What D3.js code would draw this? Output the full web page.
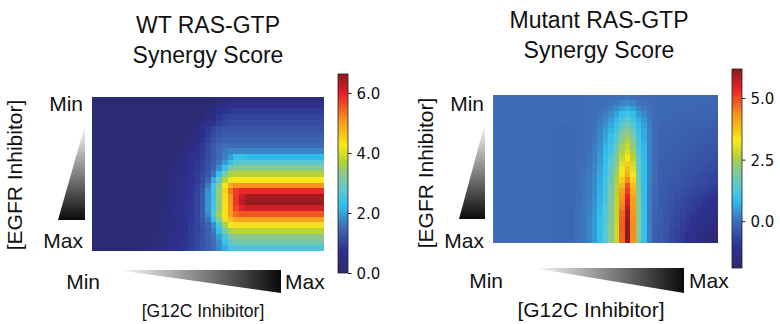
<!DOCTYPE html>
<html>
<head>
<meta charset="utf-8">
<script src="https://cdn.jsdelivr.net/npm/d3@7"></script>
<style>
  body { margin: 0; background: #fff; }
  svg { display: block; }
  .title, .lbl { font-family: "Liberation Sans", Arial, sans-serif; fill: #111; }
  .title { font-size: 23px; }
  .lbl { font-size: 21px; }
  .cbar text { font-family: "DejaVu Sans", sans-serif; font-size: 15px; fill: #111; }
</style>
</head>
<body>
<svg id="chart" width="780" height="324"></svg>
<script>
// WT synergy score, 27 rows (EGFR min -> max) x 41 cols (G12C min -> max)
const wtRows = [
  [.1,.1,.1,.1,.1,.1,.1,.1,.1,.1, .1,.1,.1,.1,.1,.1,.1,.1,.1,.1, .1,.12,.17,.25,.33,.38,.4,.4,.4,.4, .4,.4,.4,.4,.4,.4,.4,.4,.4,.4, .4],
  [.1,.1,.1,.1,.1,.1,.1,.1,.1,.1, .1,.1,.1,.1,.1,.1,.1,.1,.1,.1, .12,.2,.32,.45,.55,.6,.6,.6,.6,.6, .6,.6,.6,.6,.6,.6,.6,.6,.6,.6, .6],
  [.1,.1,.1,.1,.1,.1,.1,.1,.1,.1, .1,.1,.1,.1,.1,.1,.1,.1,.1,.12, .2,.35,.52,.68,.8,.85,.85,.85,.85,.85, .85,.85,.85,.85,.85,.85,.85,.85,.85,.85, .85],
  [.1,.1,.1,.1,.1,.1,.1,.1,.1,.1, .1,.1,.1,.1,.1,.1,.1,.1,.12,.22, .38,.58,.78,.92,1,1,1,1,1,1, 1,1,1,1,1,1,1,1,1,1, 1],
  [.1,.1,.1,.1,.1,.1,.1,.1,.1,.1, .1,.1,.1,.1,.1,.1,.1,.12,.2,.34, .52,.72,.9,1.03,1.1,1.1,1.1,1.1,1.1,1.1, 1.1,1.1,1.1,1.1,1.1,1.1,1.1,1.1,1.1,1.1, 1.1],
  [.1,.1,.1,.1,.1,.1,.1,.1,.1,.1, .1,.1,.1,.1,.1,.1,.12,.2,.34,.54, .77,.98,1.12,1.2,1.2,1.2,1.2,1.2,1.2,1.2, 1.2,1.2,1.2,1.2,1.2,1.2,1.2,1.2,1.2,1.2, 1.2],
  [.1,.1,.1,.1,.1,.1,.1,.1,.1,.1, .1,.1,.1,.1,.1,.1,.14,.24,.4,.6, .84,1.05,1.2,1.3,1.3,1.3,1.3,1.3,1.3,1.3, 1.3,1.3,1.3,1.3,1.3,1.3,1.3,1.3,1.3,1.3, 1.3],
  [.1,.1,.1,.1,.1,.1,.1,.1,.1,.1, .1,.1,.1,.1,.1,.13,.2,.32,.5,.72, .95,1.15,1.32,1.4,1.4,1.4,1.4,1.4,1.4,1.4, 1.4,1.4,1.4,1.4,1.4,1.4,1.4,1.4,1.4,1.4, 1.4],
  [.1,.1,.1,.1,.1,.1,.1,.1,.1,.1, .1,.1,.1,.1,.12,.18,.28,.42,.6,.82, 1.05,1.25,1.42,1.5,1.5,1.5,1.5,1.5,1.5,1.5, 1.5,1.5,1.5,1.5,1.5,1.5,1.5,1.5,1.5,1.5, 1.5],
  [.1,.1,.1,.1,.1,.1,.1,.1,.1,.1, .1,.1,.1,.1,.13,.2,.3,.44,.62,.85, 1.08,1.3,1.5,1.65,1.75,1.75,1.75,1.75,1.75,1.75, 1.75,1.75,1.75,1.75,1.75,1.75,1.75,1.75,1.75,1.75, 1.75],
  [.1,.1,.1,.1,.1,.1,.1,.1,.1,.1, .1,.1,.1,.12,.18,.27,.38,.52,.7,.9, 1.1,1.3,1.5,1.7,1.95,2.35,2.35,2.2,2.2,2.2, 2.2,2.2,2.2,2.2,2.2,2.2,2.2,2.2,2.2,2.2, 2.2],
  [.1,.1,.1,.1,.1,.1,.1,.1,.1,.1, .1,.1,.12,.17,.25,.35,.48,.62,.78,.96, 1.15,1.35,1.6,1.95,2.35,2.65,2.7,2.7,2.7,2.7, 2.7,2.7,2.7,2.7,2.7,2.7,2.7,2.7,2.7,2.7, 2.7],
  [.1,.1,.1,.1,.1,.1,.1,.1,.1,.1, .1,.1,.13,.19,.28,.38,.5,.65,.8,.98, 1.18,1.42,1.85,2.4,3,3.25,3.3,3.3,3.3,3.3, 3.3,3.3,3.3,3.3,3.3,3.3,3.3,3.3,3.3,3.3, 3.3],
  [.1,.1,.1,.1,.1,.1,.1,.1,.1,.1, .1,.12,.16,.23,.32,.43,.55,.7,.85,1.02, 1.25,1.6,2.3,3.1,3.6,3.7,3.7,3.7,3.7,3.7, 3.7,3.7,3.7,3.7,3.7,3.7,3.7,3.7,3.7,3.7, 3.7],
  [.1,.1,.1,.1,.1,.1,.1,.1,.1,.1, .1,.13,.18,.26,.35,.46,.58,.72,.88,1.06, 1.4,2.1,2.9,3.7,4.15,4.25,4.25,4.25,4.25,4.25, 4.25,4.25,4.25,4.25,4.25,4.25,4.25,4.25,4.25,4.25, 4.25],
  [.1,.1,.1,.1,.1,.1,.1,.1,.1,.1, .12,.15,.21,.29,.38,.49,.61,.75,.91,1.15, 1.65,2.4,3.3,4.2,4.85,5.1,5.1,5.1,5.1,5.1, 5.1,5.1,5.1,5.1,5.1,5.1,5.1,5.1,5.1,5.1, 5.1],
  [.1,.1,.1,.1,.1,.1,.1,.1,.1,.1, .12,.16,.23,.31,.4,.51,.63,.78,.95,1.25, 1.85,2.45,3.45,4.45,5.3,5.75,5.9,5.9,5.9,5.9, 5.9,5.9,5.9,5.9,5.9,5.9,5.9,5.9,5.9,5.9, 5.9],
  [.1,.1,.1,.1,.1,.1,.1,.1,.1,.1, .12,.17,.24,.32,.42,.53,.66,.8,.98,1.3, 1.9,2.45,3.4,4.35,5.1,5.8,6.2,6.45,6.45,6.45, 6.45,6.45,6.45,6.45,6.45,6.45,6.45,6.45,6.45,6.45, 6.45],
  [.1,.1,.1,.1,.1,.1,.1,.1,.1,.1, .12,.17,.24,.32,.42,.53,.66,.8,.98,1.3, 1.9,2.45,3.4,4.35,5.1,5.8,6.3,6.55,6.55,6.55, 6.55,6.55,6.55,6.55,6.55,6.55,6.55,6.55,6.55,6.55, 6.55],
  [.1,.1,.1,.1,.1,.1,.1,.1,.1,.12, .14,.19,.26,.34,.44,.55,.68,.82,1,1.32, 1.9,2.45,3.4,4.3,5.05,5.7,6,6.15,6.15,6.15, 6.15,6.15,6.15,6.15,6.15,6.15,6.15,6.15,6.15,6.15, 6.15],
  [.1,.1,.1,.1,.1,.1,.1,.1,.1,.12, .15,.2,.27,.35,.45,.56,.69,.83,1,1.3, 1.8,2.6,3.6,4.3,5,5.4,5.55,5.55,5.55,5.55, 5.55,5.55,5.55,5.55,5.55,5.55,5.55,5.55,5.55,5.55, 5.55],
  [.1,.1,.1,.1,.1,.1,.1,.1,.1,.13, .17,.22,.29,.37,.47,.58,.7,.84,1,1.25, 1.6,2.3,3.3,4.1,4.7,4.9,4.95,4.95,4.95,4.95, 4.95,4.95,4.95,4.95,4.95,4.95,4.95,4.95,4.95,4.95, 4.95],
  [.1,.1,.1,.1,.1,.1,.1,.1,.12,.14, .18,.23,.3,.38,.48,.59,.71,.85,1,1.2, 1.45,1.85,2.5,3.6,4.2,4.35,4.35,4.35,4.35,4.35, 4.35,4.35,4.35,4.35,4.35,4.35,4.35,4.35,4.35,4.35, 4.35],
  [.1,.1,.1,.1,.1,.1,.1,.1,.12,.15, .19,.25,.32,.4,.5,.61,.73,.86,1,1.18, 1.38,1.65,2.3,3.1,3.6,3.75,3.75,3.75,3.75,3.75, 3.75,3.75,3.75,3.75,3.75,3.75,3.75,3.75,3.75,3.75, 3.75],
  [.1,.1,.1,.1,.1,.1,.1,.1,.13,.16, .21,.27,.34,.42,.52,.63,.75,.88,1.02,1.18, 1.36,1.58,1.95,2.5,3.1,3.3,3.3,3.3,3.3,3.3, 3.3,3.3,3.3,3.3,3.3,3.3,3.3,3.3,3.3,3.3, 3.3],
  [.1,.1,.1,.1,.1,.1,.1,.12,.14,.18, .23,.29,.36,.44,.54,.65,.77,.9,1.04,1.19, 1.36,1.55,1.8,2.3,2.85,3.05,3.05,3.05,3.05,3.05, 3.05,3.05,3.05,3.05,3.05,3.05,3.05,3.05,3.05,3.05, 3.05],
  [.1,.1,.1,.1,.1,.1,.1,.12,.15,.19, .24,.3,.37,.46,.56,.67,.79,.92,1.06,1.2, 1.36,1.55,1.8,2.1,2.5,2.55,2.55,2.55,2.55,2.55, 2.55,2.55,2.55,2.55,2.55,2.55,2.55,2.55,2.55,2.55, 2.55]
];

// Mutant synergy score, same grid
const mutRows = [
  [-.03,-.03,-.03,-.03,-.03,-.03,-.03,-.03,-.03,-.03, -.03,-.03,-.03,-.03,-.03,-.03,-.03,-.02,-.02,-.02, 0,0,0,0,.1,0,-.05,-.05,-.05,-.08, -.1,-.1,-.1,-.1,-.1,-.1,-.1,-.1,-.1,-.1, -.1],
  [-.03,-.03,-.03,-.03,-.03,-.03,-.03,-.03,-.03,-.03, -.03,-.03,-.03,-.03,-.03,-.03,-.03,-.02,-.02,-.02, 0,.05,.1,.2,.3,.2,.05,0,-.05,-.05, -.1,-.1,-.1,-.11,-.11,-.11,-.11,-.11,-.12,-.12, -.12],
  [-.03,-.03,-.03,-.03,-.03,-.03,-.03,-.03,-.03,-.03, -.03,-.03,-.03,-.03,-.03,-.03,-.03,-.02,-.02,0, .05,.15,.3,.5,.7,.5,.25,.1,0,-.05, -.1,-.11,-.11,-.12,-.12,-.13,-.13,-.14,-.14,-.15, -.15],
  [-.03,-.03,-.03,-.03,-.03,-.03,-.03,-.03,-.03,-.03, -.03,-.03,-.03,-.03,-.03,-.03,-.03,-.02,-.02,.05, .15,.3,.55,.85,1.1,.85,.45,.25,.05,-.05, -.1,-.11,-.12,-.12,-.13,-.14,-.15,-.16,-.16,-.17, -.18],
  [-.03,-.03,-.03,-.03,-.03,-.03,-.03,-.03,-.03,-.03, -.03,-.03,-.03,-.03,-.03,-.03,-.03,-.02,-.02,.1, .25,.45,.75,1.1,1.4,1.1,.65,.4,.1,-.05, -.12,-.13,-.14,-.15,-.16,-.17,-.18,-.19,-.2,-.21, -.22],
  [-.03,-.03,-.03,-.03,-.03,-.03,-.03,-.03,-.03,-.03, -.03,-.1,-.1,-.1,-.1,-.03,-.03,-.02,0,.15, .35,.6,.9,1.4,1.8,1.35,.8,.5,.15,-.05, -.14,-.15,-.16,-.18,-.19,-.2,-.21,-.22,-.24,-.25, -.26],
  [-.03,-.03,-.03,-.03,-.03,-.03,-.03,-.03,-.03,-.03, -.03,-.1,-.1,-.1,-.1,-.03,-.03,-.02,.05,.2, .45,.75,1.1,1.7,2.1,1.6,.95,.6,.2,-.05, -.16,-.17,-.19,-.2,-.22,-.23,-.24,-.26,-.27,-.29, -.3],
  [-.03,-.03,-.03,-.03,-.03,-.03,-.03,-.03,-.03,-.03, -.03,-.1,-.1,-.1,-.1,-.03,-.03,-.02,.08,.25, .55,.9,1.3,2,2.35,1.85,1.05,.65,.2,-.05, -.17,-.19,-.2,-.22,-.24,-.26,-.27,-.29,-.31,-.32, -.34],
  [-.03,-.03,-.03,-.03,-.03,-.03,-.03,-.03,-.03,-.03, -.03,-.1,-.1,-.1,-.1,-.03,-.03,-.02,.1,.3, .65,1,1.45,2.2,2.6,2.05,1.15,.7,.2,-.05, -.18,-.2,-.22,-.24,-.26,-.28,-.3,-.32,-.34,-.36, -.38],
  [-.03,-.03,-.03,-.03,-.03,-.03,-.03,-.03,-.03,-.03, -.03,-.1,-.1,-.1,-.1,-.03,-.03,0,.12,.35, .75,1.1,1.6,2.4,2.8,2.25,1.25,.75,.2,-.05, -.19,-.21,-.24,-.26,-.28,-.31,-.33,-.35,-.37,-.4, -.42],
  [-.03,-.03,-.03,-.03,-.03,-.03,-.03,-.03,-.03,-.03, -.03,-.1,-.1,-.1,-.1,-.03,-.03,.02,.15,.4, .8,1.2,1.8,2.6,3,2.5,1.35,.8,.2,-.05, -.2,-.23,-.25,-.28,-.3,-.33,-.36,-.38,-.41,-.43, -.46],
  [-.03,-.03,-.03,-.03,-.03,-.03,-.03,-.03,-.03,-.03, -.03,-.1,-.1,-.1,-.1,-.03,-.03,.04,.18,.45, .85,1.3,1.95,2.75,3.3,2.65,1.45,.8,.2,-.05, -.21,-.24,-.27,-.3,-.33,-.36,-.38,-.41,-.44,-.47, -.5],
  [-.03,-.03,-.03,-.03,-.03,-.03,-.03,-.03,-.03,-.03, -.03,-.1,-.1,-.1,-.1,-.03,-.03,.06,.2,.5, .9,1.4,2.1,3,3.55,2.8,1.55,.85,.2,-.05, -.22,-.25,-.29,-.32,-.35,-.39,-.42,-.45,-.48,-.52, -.55],
  [-.03,-.03,-.03,-.03,-.03,-.03,-.03,-.03,-.03,-.03, -.03,-.1,-.1,-.1,-.1,-.03,0,.08,.22,.55, .95,1.5,2.25,3.2,3.8,3,1.65,.85,.2,-.05, -.23,-.27,-.3,-.34,-.38,-.42,-.45,-.49,-.53,-.56, -.6],
  [-.03,-.03,-.03,-.03,-.03,-.03,-.03,-.03,-.03,-.03, -.03,-.1,-.1,-.1,-.1,-.03,.01,.1,.25,.6, 1,1.6,2.4,3.35,4,3.25,1.75,.85,.2,-.05, -.24,-.28,-.32,-.37,-.41,-.45,-.49,-.53,-.58,-.62, -.66],
  [-.03,-.03,-.03,-.03,-.03,-.03,-.03,-.03,-.03,-.03, -.03,-.1,-.1,-.1,-.1,-.03,.02,.12,.28,.65, 1.05,1.7,2.5,3.6,4.4,3.5,1.85,.86,.2,-.05, -.25,-.3,-.35,-.39,-.44,-.49,-.54,-.59,-.63,-.68, -.73],
  [-.03,-.03,-.03,-.03,-.03,-.03,-.03,-.03,-.03,-.03, -.03,-.1,-.1,-.1,-.1,-.03,.03,.14,.3,.7, 1.1,1.8,2.55,3.9,4.9,3.8,1.95,.87,.15,-.1, -.26,-.31,-.37,-.42,-.48,-.53,-.58,-.64,-.69,-.75, -.8],
  [-.03,-.03,-.03,-.03,-.03,-.03,-.03,-.03,-.03,-.03, -.03,-.1,-.1,-.1,-.1,-.03,.04,.15,.32,.7, 1.15,1.85,2.6,4.2,5.1,4,2,.88,.15,-.12, -.27,-.33,-.4,-.46,-.52,-.59,-.65,-.71,-.77,-.84, -.9],
  [-.03,-.03,-.03,-.03,-.03,-.03,-.03,-.03,-.03,-.03, -.03,-.1,-.1,-.1,-.1,-.03,.05,.16,.35,.75, 1.2,1.9,2.65,4.3,5.35,4.1,2.05,.88,.15,-.14, -.28,-.35,-.42,-.5,-.57,-.64,-.71,-.78,-.86,-.93, -1],
  [-.03,-.03,-.03,-.03,-.03,-.03,-.03,-.03,-.03,-.03, -.03,-.1,-.1,-.1,-.1,-.03,.06,.17,.38,.75, 1.25,1.95,2.7,4.35,5.5,4.2,2.1,.89,.15,-.16, -.29,-.37,-.45,-.53,-.61,-.7,-.78,-.86,-.94,-1.02, -1.1],
  [-.03,-.03,-.03,-.03,-.03,-.03,-.03,-.03,-.03,-.03, -.03,-.1,-.1,-.1,-.1,0,.07,.18,.4,.8, 1.3,2,2.7,4.5,5.75,4.25,2.1,.9,.15,-.18, -.3,-.39,-.48,-.57,-.66,-.75,-.84,-.93,-1.02,-1.11, -1.2],
  [-.03,-.03,-.03,-.03,-.03,-.03,-.03,-.03,-.03,-.03, -.03,-.1,-.1,-.1,-.1,0,.08,.19,.42,.8, 1.3,2,2.75,4.7,5.95,4.3,2.15,.9,.15,-.2, -.3,-.4,-.5,-.6,-.7,-.8,-.9,-1,-1.1,-1.2, -1.3],
  [-.03,-.03,-.03,-.03,-.03,-.03,-.03,-.03,-.03,-.03, -.03,-.1,-.1,-.1,-.1,0,.08,.2,.45,.85, 1.35,2.05,2.75,4.75,6.05,4.35,2.15,.9,.15,-.21, -.3,-.41,-.52,-.64,-.75,-.86,-.97,-1.08,-1.2,-1.31, -1.42],
  [-.03,-.03,-.03,-.03,-.03,-.03,-.03,-.03,-.03,-.03, -.03,-.1,-.1,-.1,-.1,0,.08,.2,.45,.85, 1.35,2.05,2.75,4.8,6.1,4.4,2.15,.9,.15,-.22, -.3,-.42,-.55,-.67,-.8,-.92,-1.04,-1.17,-1.29,-1.42, -1.54],
  [-.03,-.03,-.03,-.03,-.03,-.03,-.03,-.03,-.03,-.03, -.03,-.1,-.1,-.1,-.1,0,.08,.2,.45,.85, 1.4,2.1,2.8,4.8,6.15,4.4,2.15,.9,.15,-.23, -.3,-.44,-.57,-.71,-.84,-.98,-1.11,-1.25,-1.38,-1.52, -1.65],
  [-.03,-.03,-.03,-.03,-.03,-.03,-.03,-.03,-.03,-.03, -.03,-.1,-.1,-.1,-.1,0,.08,.2,.45,.85, 1.4,2.1,2.8,4.75,6.15,4.4,2.1,.9,.15,-.24, -.3,-.45,-.59,-.74,-.88,-1.03,-1.17,-1.32,-1.46,-1.61, -1.75],
  [-.03,-.03,-.03,-.03,-.03,-.03,-.03,-.03,-.03,-.03, -.03,-.1,-.1,-.1,-.1,0,.08,.2,.45,.85, 1.4,2.1,2.8,4.7,6.1,4.35,2.1,.9,.15,-.25, -.3,-.46,-.61,-.77,-.92,-1.08,-1.23,-1.39,-1.54,-1.7, -1.85]
];

const wtRange = [0, 6.63];
const mutRange = [-1.9, 6.18];
const wtTicks = [0, 2, 4, 6];
const mutTicks = [0, 2.5, 5];
const wtTitle = ['WT RAS-GTP', 'Synergy Score'];
const mutTitle = ['Mutant RAS-GTP', 'Synergy Score'];
const yAxisName = '[EGFR Inhibitor]';
const xAxisName = '[G12C Inhibitor]';
const doseEnds = ['Min', 'Max'];

// jet-like colormap as it appears in the printed figure
const jetStops = [0, 0.11, 0.23, 0.34, 0.41, 0.5, 0.56, 0.64, 0.77, 0.85, 0.9, 1];
const jetColors = ['#2b2a6e', '#2e3192', '#3e6cb4', '#30c0ee', '#5cc7d2', '#8cc98c',
                   '#b5d334', '#f7e91c', '#f7941d', '#ef4a25', '#e8202a', '#8b1a1c'];

const svg = d3.select('#chart');
const defs = svg.append('defs');

const panels = [
  {
    id: 'wt', rows: wtRows, range: wtRange, ticks: wtTicks, title: wtTitle,
    titleX: 208, titleY: [33, 63],
    heat: { x0: 92, x1: 324, y0: 97, y1: 251 },
    bar: { x: 338, w: 10, y0: 74, y1: 273 },
    yLab: { x: 22, y: 175 }, minMaxX: 83, minY: 111, maxY: 248,
    yTri: [[85, 125], [58, 220], [85, 220]],
    xTri: [[117, 270], [281, 270], [281, 293]],
    xMin: 100, xMax: 285, xEndsY: 289, xLab: { x: 203, y: 317, size: 17.5 },
  },
  {
    id: 'mut', rows: mutRows, range: mutRange, ticks: mutTicks, title: mutTitle,
    titleX: 599, titleY: [28, 58],
    heat: { x0: 493, x1: 718, y0: 95, y1: 243 },
    bar: { x: 732, w: 10, y0: 69, y1: 268 },
    yLab: { x: 433, y: 173 }, minMaxX: 484, minY: 111, maxY: 248,
    yTri: [[485, 123], [459, 219], [485, 219]],
    xTri: [[533, 268], [684, 268], [684, 293]],
    xMin: 503, xMax: 689, xEndsY: 288, xLab: { x: 591, y: 317, size: 21 },
  },
];

// white -> black wedges
const gy = defs.append('linearGradient').attr('id', 'wedgeV')
  .attr('x1', 0).attr('y1', 0).attr('x2', 0).attr('y2', 1);
gy.append('stop').attr('offset', '0%').attr('stop-color', '#fff');
gy.append('stop').attr('offset', '100%').attr('stop-color', '#0a0a0a');
const gx = defs.append('linearGradient').attr('id', 'wedgeH')
  .attr('x1', 0).attr('y1', 0).attr('x2', 1).attr('y2', 0);
gx.append('stop').attr('offset', '0%').attr('stop-color', '#fff');
gx.append('stop').attr('offset', '100%').attr('stop-color', '#0a0a0a');

panels.forEach(p => {
  const nRows = p.rows.length;
  const nCols = p.rows[0].length;
  const [lo, hi] = p.range;

  const color = d3.scaleLinear()
    .domain(jetStops.map(t => lo + t * (hi - lo)))
    .range(jetColors)
    .interpolate(d3.interpolateRgb)
    .clamp(true);

  const x = d3.scaleBand().domain(d3.range(nCols)).range([p.heat.x0, p.heat.x1]);
  const y = d3.scaleBand().domain(d3.range(nRows)).range([p.heat.y0, p.heat.y1]);

  const cells = p.rows.flatMap((row, i) => row.map((v, j) => ({ i, j, v })));

  svg.append('g')
    .attr('shape-rendering', 'crispEdges')
    .selectAll('rect')
    .data(cells)
    .join('rect')
      .attr('x', d => x(d.j))
      .attr('y', d => y(d.i))
      .attr('width', x.bandwidth() + 0.4)
      .attr('height', y.bandwidth() + 0.4)
      .attr('fill', d => color(d.v));

  // colorbar
  const grad = defs.append('linearGradient').attr('id', 'cb-' + p.id)
    .attr('x1', 0).attr('y1', 1).attr('x2', 0).attr('y2', 0);
  grad.selectAll('stop')
    .data(jetStops)
    .join('stop')
      .attr('offset', t => (t * 100) + '%')
      .attr('stop-color', (t, k) => jetColors[k]);

  const cb = svg.append('g').attr('class', 'cbar');
  cb.append('rect')
    .attr('x', p.bar.x).attr('y', p.bar.y0)
    .attr('width', p.bar.w).attr('height', p.bar.y1 - p.bar.y0)
    .attr('fill', 'url(#cb-' + p.id + ')')
    .attr('stroke', '#222').attr('stroke-width', 0.8);

  const cbScale = d3.scaleLinear().domain(p.range).range([p.bar.y1, p.bar.y0]);
  const axis = cb.append('g')
    .attr('transform', `translate(${p.bar.x + p.bar.w},0)`)
    .call(d3.axisRight(cbScale).tickValues(p.ticks).tickFormat(d3.format('.1f'))
      .tickSize(3.5).tickPadding(5));
  axis.select('.domain').remove();
  axis.selectAll('line').attr('stroke', '#222');
  axis.selectAll('text').attr('dy', '0.36em');

  // titles
  p.title.forEach((t, k) => {
    svg.append('text').attr('class', 'title')
      .attr('x', p.titleX).attr('y', p.titleY[k])
      .attr('text-anchor', 'middle').text(t);
  });

  // EGFR axis
  svg.append('text').attr('class', 'lbl')
    .attr('transform', `translate(${p.yLab.x},${p.yLab.y}) rotate(-90)`)
    .attr('text-anchor', 'middle').text(yAxisName);
  svg.append('text').attr('class', 'lbl')
    .attr('x', p.minMaxX).attr('y', p.minY).attr('text-anchor', 'end').text(doseEnds[0]);
  svg.append('text').attr('class', 'lbl')
    .attr('x', p.minMaxX).attr('y', p.maxY).attr('text-anchor', 'end').text(doseEnds[1]);
  svg.append('polygon')
    .attr('points', p.yTri.map(q => q.join(',')).join(' '))
    .attr('fill', 'url(#wedgeV)');

  // G12C axis
  svg.append('polygon')
    .attr('points', p.xTri.map(q => q.join(',')).join(' '))
    .attr('fill', 'url(#wedgeH)');
  svg.append('text').attr('class', 'lbl')
    .attr('x', p.xMin).attr('y', p.xEndsY).attr('text-anchor', 'end').text(doseEnds[0]);
  svg.append('text').attr('class', 'lbl')
    .attr('x', p.xMax).attr('y', p.xEndsY).attr('text-anchor', 'start').text(doseEnds[1]);
  svg.append('text').attr('class', 'lbl')
    .attr('x', p.xLab.x).attr('y', p.xLab.y)
    .style('font-size', p.xLab.size + 'px')
    .attr('text-anchor', 'middle').text(xAxisName);
});
</script>
</body>
</html>
